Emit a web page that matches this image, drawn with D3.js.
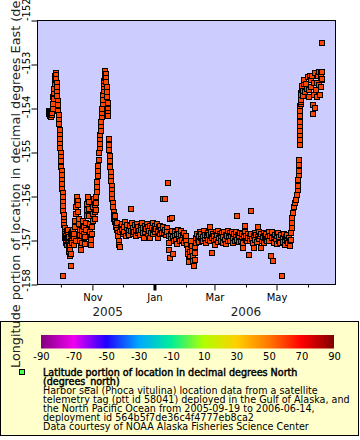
<!DOCTYPE html>
<html><head><meta charset="utf-8">
<script src="https://cdn.jsdelivr.net/npm/d3@7"></script>
<style>body{margin:0;background:#fff}svg{display:block;font-family:"DejaVu Sans",sans-serif}</style>
</head><body>
<svg id="chart" width="360" height="440"></svg>
<script>
// ---- data ----
const startDate = "2005-09-19";
// [days since startDate, longitude (degrees_east)]
const fixes = [
[0.0,-154.05],[0.4,-154.12],[0.8,-154.18],[1.2,-154.08],[1.6,-154.15],[2.0,-154.1],[2.4,-154.2],[2.8,-154.05],[3.2,-154.14],[3.6,-154.1],[4.0,-153.75],[4.3,-154.0],
[4.6,-153.9],[5.0,-153.78],[5.3,-153.65],[5.6,-153.55],[5.9,-153.45],[6.2,-153.36],[6.5,-153.27],[6.8,-153.2],[7.1,-153.24],[7.4,-153.32],
[7.7,-153.42],[8.0,-153.52],[8.3,-153.62],[8.6,-153.72],[8.9,-153.82],[9.2,-153.92],[9.5,-154.05],[9.8,-154.15],[10.1,-154.25],[10.4,-154.35],
[10.7,-154.48],[11.0,-154.6],[11.2,-154.7],[11.4,-154.8],[11.6,-154.9],[11.8,-155.0],[12.0,-155.1],[12.2,-155.2],[12.4,-155.32],[12.6,-155.42],
[12.8,-155.52],[13.0,-155.62],[13.2,-155.72],[13.4,-155.82],[13.6,-155.92],[13.8,-156.02],[14.0,-156.12],[14.1,-157.8],[14.2,-156.22],[14.4,-156.32],
[14.6,-156.42],[14.8,-156.5],
[15.0,-156.58],[15.3,-156.65],[15.6,-156.72],[15.9,-156.8],[16.2,-156.95],[16.5,-156.85],[16.8,-157.0],[17.1,-156.9],[17.4,-157.05],[17.7,-156.78],
[18.0,-156.95],[18.3,-157.1],[18.6,-156.88],[18.9,-157.02],[19.2,-156.75],[19.5,-156.92],[19.8,-157.15],[20.1,-157.05],[20.4,-157.25],[20.7,-157.35],
[21.0,-157.2],[21.3,-157.1],[21.5,-157.58],[21.8,-157.3],[22.1,-157.0],[22.4,-156.85],[22.7,-156.95],[23.0,-156.8],[23.3,-157.05],[23.6,-156.9],[24.0,-156.75],
[24.4,-156.95],[24.8,-157.1],[25.2,-156.85],[25.6,-156.7],[26.0,-156.55],[26.4,-157.0],[26.8,-156.4],[27.2,-156.25],[27.6,-156.12],[28.0,-156.02],
[28.4,-156.1],[28.8,-156.2],[29.2,-156.35],[29.6,-156.5],[30.0,-156.62],[30.4,-156.75],[30.8,-156.88],[31.2,-157.0],[31.6,-157.12],[32.0,-157.22],
[32.4,-157.05],[32.8,-156.9],[33.2,-156.78],[33.6,-156.65],[34.0,-156.55],[34.4,-156.7],[34.8,-156.85],[35.2,-156.95],[35.6,-157.08],[36.0,-156.92],
[36.4,-156.75],[36.8,-156.6],[37.2,-156.45],[37.6,-156.3],[38.0,-156.18],[38.4,-156.05],[38.8,-156.0],[39.2,-156.12],[39.6,-156.28],[40.0,-156.45],
[40.4,-156.62],[40.8,-156.8],[41.2,-156.95],[41.6,-157.1],[42.0,-156.98],[42.4,-156.85],[42.8,-156.7],[43.2,-156.55],[43.6,-156.4],[44.0,-156.25],
[44.4,-156.1],[44.8,-156.05],[45.2,-156.2],[45.6,-156.35],[46.0,-156.5],[46.4,-156.3],[46.8,-156.15],
[47.0,-156.0],[47.3,-155.9],[47.6,-155.78],[47.9,-155.66],[48.2,-155.54],[48.5,-155.42],[48.8,-155.3],[49.1,-155.18],[49.6,-155.0],[50.0,-154.9],
[50.3,-154.8],[50.6,-154.7],[50.9,-154.6],[51.2,-154.5],[51.5,-154.4],[51.8,-154.3],[52.1,-154.2],[52.4,-154.1],[52.7,-154.0],[53.0,-153.9],
[53.3,-153.8],[53.6,-153.7],[53.9,-153.6],[54.2,-153.5],[54.5,-153.45],[54.8,-153.38],[55.1,-153.3],
[55.5,-153.18],[55.8,-153.15],[56.1,-153.22],[56.4,-153.3],[56.7,-153.4],[57.0,-153.5],[57.3,-153.62],[57.6,-153.75],[57.9,-153.88],[58.2,-154.0],
[58.5,-154.1],[58.8,-154.18],[59.1,-154.7],[59.4,-154.82],[59.7,-154.95],[60.0,-155.08],[60.3,-155.2],[60.6,-155.32],[60.9,-155.45],[61.2,-155.55],
[61.5,-155.65],[61.8,-155.75],[62.1,-155.85],[62.4,-155.95],[62.7,-156.05],[63.0,-156.15],[63.4,-156.25],[63.8,-156.35],[64.2,-156.42],[64.6,-156.5],
[65.0,-156.58],[65.5,-156.45],[66.0,-156.62],[66.5,-156.7],[67.0,-156.6],[67.5,-156.75],[68.0,-156.82],[68.5,-156.9],[69.0,-157.0],[69.5,-157.1],
[70.0,-157.15],[70.5,-156.8],[71.0,-156.7],
[71.6,-156.75],[72.3,-156.62],[73.0,-156.85],[73.7,-156.7],[74.4,-156.8],[75.3,-156.58],[75.9,-156.9],[76.6,-156.72],[77.3,-156.65],[78.0,-156.82],
[78.7,-156.75],[79.4,-156.88],[80.1,-156.68],[80.6,-156.29],[81.2,-156.78],[81.9,-156.6],[82.6,-156.85],[83.3,-156.72],[84.0,-156.8],[84.7,-156.65],
[85.4,-156.9],[86.1,-156.75],[86.8,-156.62],[87.5,-156.82],[88.2,-156.7],[88.9,-156.78],[89.6,-156.88],[90.3,-156.66],[91.0,-156.75],[91.7,-156.6],
[92.4,-156.83],[93.1,-156.72],[93.7,-156.95],[94.4,-156.68],[95.1,-156.8],[95.8,-156.74],[96.5,-156.63],[97.2,-156.86],[97.9,-156.7],[98.6,-156.78],
[99.3,-156.95],[100.0,-156.66],[100.7,-156.82],[101.4,-156.72],[102.1,-156.6],[102.8,-156.86],[103.5,-156.75],[104.2,-156.68],[104.9,-156.8],[105.6,-156.73],
[106.3,-156.62],[107.0,-156.95],[107.7,-156.78],[108.4,-156.7],[109.1,-156.85],[109.8,-156.66],[110.5,-156.76],[111.2,-156.82],[112.0,-156.06],[112.6,-156.7],
[113.3,-156.84],[114.0,-156.06],[114.7,-156.75],[115.4,-156.88],[116.1,-156.72],
[116.8,-156.8],[117.5,-155.69],[118.0,-156.9],[118.3,-157.06],[118.6,-157.22],[118.9,-157.4],[119.3,-156.52],[119.8,-156.95],[120.4,-156.85],[121.0,-156.78],
[121.6,-156.49],[121.9,-157.3],[122.5,-156.92],[123.2,-157.0],[123.9,-156.8],[124.6,-156.9],[125.3,-156.98],[126.0,-156.85],[126.4,-157.08],[127.0,-156.75],
[127.7,-156.95],[128.4,-156.85],[129.1,-157.02],[129.8,-156.9],[130.5,-156.78],[131.2,-156.98],[131.9,-156.88],[132.6,-157.05],[133.3,-156.82],[134.0,-156.95],
[134.7,-157.0],[135.4,-156.9],[136.0,-157.1],[136.5,-157.2],[137.0,-157.3],[137.5,-157.42],[138.0,-157.5],[138.5,-157.35],[139.0,-157.25],[139.5,-157.1],
[140.0,-157.0],[140.5,-157.12],[141.0,-157.24],[141.5,-157.36],[142.0,-157.47],[142.5,-157.58],[143.0,-157.58],[143.5,-157.45],[143.9,-157.28],[144.3,-157.15],
[144.8,-157.05],[145.3,-156.95],[146.0,-156.85],[146.7,-156.98],[147.4,-156.9],[148.1,-157.04],[148.8,-156.8],[149.5,-156.94],[150.2,-156.86],[150.9,-157.0],
[151.6,-156.92],[152.0,-157.02],[152.7,-156.78],[153.4,-156.96],[154.1,-156.88],[154.8,-157.05],[155.5,-156.9],[156.2,-156.82],[156.9,-156.98],[157.6,-156.87],
[158.3,-157.0],[158.6,-156.69],[159.2,-156.9],[159.8,-156.8],[160.3,-157.28],[160.9,-156.95],[161.5,-156.85],[162.2,-157.02],[162.9,-156.9],[163.5,-157.11],
[164.1,-156.8],[164.8,-156.96],[165.5,-156.88],[166.2,-157.04],[166.9,-156.78],[167.6,-156.94],[168.3,-156.85],[169.0,-157.0],[169.7,-156.9],[170.4,-156.82],
[171.1,-157.05],[171.8,-156.92],[172.5,-156.8],[173.2,-156.98],[173.9,-156.88],[174.6,-157.09],[175.3,-156.9],[176.0,-156.79],[176.6,-157.02],[177.3,-156.92],
[178.0,-156.84],[178.7,-157.0],[179.4,-156.9],[180.1,-156.8],[181.0,-157.06],[181.6,-156.95],[182.3,-156.85],[183.0,-157.02],[183.7,-156.92],[184.4,-156.8],
[184.9,-156.44],[185.5,-156.98],[186.2,-156.88],[186.9,-157.04],[187.6,-156.9],[188.3,-156.82],[189.0,-157.0],[189.7,-156.93],[190.4,-156.85],[191.1,-157.05],
[191.4,-157.18],[192.0,-156.9],[192.7,-156.8],[193.1,-156.67],[193.6,-156.98],[194.3,-156.9],[195.0,-157.02],[195.7,-156.86],[196.4,-156.95],[197.0,-157.33],
[197.6,-156.9],[198.3,-157.0],[198.7,-156.33],[199.4,-156.85],[200.1,-156.96],[200.8,-157.05],[201.5,-156.9],[201.9,-157.18],[202.6,-156.82],[203.3,-156.98],
[204.0,-156.88],[204.7,-157.03],[205.4,-156.92],[205.6,-156.69],[206.3,-156.8],[207.0,-156.97],[207.7,-156.9],[208.5,-157.17],[209.2,-156.85],[209.9,-157.0],
[210.6,-156.93],[211.3,-156.82],[212.0,-157.05],[212.7,-156.9],[213.4,-156.98],[214.1,-156.86],[214.8,-157.02],[215.5,-156.92],[216.2,-156.8],[216.9,-157.0],
[217.6,-156.9],[218.4,-157.35],[219.1,-156.95],[219.8,-156.81],[220.6,-157.46],[221.3,-156.92],[222.0,-157.05],[222.7,-156.88],[223.4,-156.96],[224.1,-157.08],
[224.8,-156.9],[225.5,-156.84],[226.2,-157.0],[226.9,-156.92],[227.6,-157.06],[228.3,-156.88],[229.2,-157.8],[229.9,-156.95],[230.6,-157.04],[231.3,-156.86],
[232.0,-156.98],[232.7,-157.1],[233.4,-156.92],[234.1,-157.02],[234.8,-156.88],[235.5,-157.05],[236.2,-156.95],[236.9,-157.0],
[237.3,-157.12],[237.8,-156.98],[238.3,-156.84],[238.8,-156.72],[239.3,-156.61],[239.7,-156.49],[240.1,-156.37],[241.5,-156.25],[242.6,-156.15],[243.5,-156.07],
[244.3,-155.97],[244.9,-155.86],[245.3,-155.76],[245.6,-155.63],[245.9,-155.52],[246.1,-155.43],[246.3,-155.29],[246.5,-155.18],[246.7,-154.84],[246.8,-154.72],
[246.9,-154.6],[247.0,-154.5],[247.1,-154.4],[247.2,-154.3],[247.3,-154.18],[247.4,-154.05],[247.5,-153.95],[247.6,-153.9],[247.7,-153.85],[247.9,-153.75],
[248.0,-153.8],[248.2,-153.65],[248.4,-153.7],[248.6,-153.55],[249.2,-153.48],[249.7,-153.72],[250.2,-153.6],[250.6,-153.45],[251.4,-153.36],[252.1,-153.63],
[253.1,-153.45],[253.8,-153.55],[254.6,-153.29],[255.5,-153.59],[256.1,-153.73],[257.0,-153.25],[257.7,-153.36],[258.0,-153.5],[259.1,-153.25],[259.7,-153.93],
[259.9,-154.12],[260.5,-153.7],[261.1,-153.43],[262.0,-153.99],[262.3,-153.2],[263.0,-153.59],[263.6,-153.43],[264.0,-153.75],[264.4,-153.25],[265.4,-153.18],
[266.2,-153.46],[266.9,-153.7],[267.4,-153.5],[268.0,-153.2],[268.2,-153.29],[268.4,-153.36],[268.6,-153.32],[268.8,-153.18],[268.9,-152.52]
];
const timeDomain = ["2005-09-08", "2006-06-28"];
const lonDomain = [-158, -152];
const yTicks = [-158, -157, -156, -155, -154, -153, -152];
const yearLabels = ["2005", "2006"];
const yearLabelDates = ["2005-11-16", "2006-04-01"];
const colorbarDomain = [-90, 90];
const colorbarTicks = [-90, -70, -50, -30, -10, 10, 30, 50, 70, 90];
const paletteValues = [-90, -70, -50, -30, -10, 10, 30, 50, 70, 90];
const paletteColors = ["#800080", "#f000f0", "#2000ff", "#00a8ff", "#00ee99", "#b0ff00", "#ffd000", "#ff7800", "#ff0000", "#800000"];
const yTitle = "Longitude portion of location in decimal degrees East (degrees_east)";
const legendTitle = ["Latitude portion of location in decimal degrees North", "(degrees_north)"];
const legendLines = [
  "Harbor seal (Phoca vitulina) location data from a satellite",
  "telemetry tag (ptt id 58041) deployed in the Gulf of Alaska, and",
  "the North Pacific Ocean from 2005-09-19 to 2006-06-14,",
  "deployment id 564b5f7de36c4f4777eb8ca2",
  "Data courtesy of NOAA Alaska Fisheries Science Center"
];

// ---- drawing ----
const svg = d3.select("#chart");
const font = "DejaVu Sans";
const P = {l: 37.5, t: 20.5, r: 335.5, b: 284.5};
const utc = s => new Date(s + "T00:00:00Z");
const x = d3.scaleUtc().domain(timeDomain.map(utc)).range([P.l, P.r]);
const y = d3.scaleLinear().domain(lonDomain).range([P.b, P.t]);

svg.append("rect").attr("x", P.l).attr("y", P.t).attr("width", P.r - P.l).attr("height", P.b - P.t)
  .attr("fill", "#ccccff");

const t0 = utc(startDate).getTime();
const pts = fixes.map(f => ({date: new Date(t0 + f[0] * 864e5), lon: f[1]}));
svg.append("g").selectAll("rect").data(pts).join("rect")
  .attr("x", d => Math.round(x(d.date)) - 2.5)
  .attr("y", d => Math.round(y(d.lon)) - 2.5)
  .attr("width", 5).attr("height", 5)
  .attr("fill", "#ff4600").attr("stroke", "#000").attr("stroke-width", 1);

svg.append("rect").attr("x", P.l).attr("y", P.t).attr("width", P.r - P.l).attr("height", P.b - P.t)
  .attr("fill", "none").attr("stroke", "#000").attr("stroke-width", 1);

// x axis
const isMajor = d => d.getUTCMonth() % 2 === 0;
const xg = svg.append("g").attr("transform", `translate(0,${P.b})`)
  .call(d3.axisBottom(x).ticks(d3.utcMonth.every(1)).tickSizeOuter(0)
    .tickFormat(d => isMajor(d) ? d3.utcFormat("%b")(d) : ""));
xg.select(".domain").remove();
xg.attr("font-family", font).attr("font-size", 10);
xg.selectAll(".tick line").attr("stroke", "#000")
  .attr("y2", d => isMajor(d) ? 6 : 3)
  .attr("stroke-width", d => d.getUTCMonth() === 0 ? 3 : 1);
xg.selectAll(".tick text").attr("fill", "#000").attr("y", 16).attr("dy", 0);
svg.append("g").selectAll("text").data(yearLabels).join("text")
  .attr("x", (d, i) => x(utc(yearLabelDates[i]))).attr("y", 315.5)
  .attr("text-anchor", "middle").attr("font-family", font).attr("font-size", 12).attr("fill", "#222")
  .text(d => d);

// y axis
const yg = svg.append("g").attr("transform", `translate(${P.l},0)`)
  .call(d3.axisLeft(y).tickValues(yTicks).tickSize(6).tickFormat(d => String(d)));
yg.select(".domain").remove();
yg.attr("font-family", font).attr("font-size", 10);
yg.selectAll(".tick line").attr("stroke", "#000");
yg.selectAll(".tick text").attr("fill", "#000").attr("x", null).attr("dy", 0)
  .attr("text-anchor", d => d === lonDomain[1] ? "start" : "middle")
  .attr("transform", d => {
    const off = d === lonDomain[1] ? 0 : (d === lonDomain[0] ? -4.6 : -2);
    return `translate(-7.5,${off}) rotate(-90)`;
  });

// legend box
svg.append("rect").attr("x", 0.5).attr("y", 321.5).attr("width", 358).attr("height", 114)
  .attr("fill", "#ffffcc").attr("stroke", "#000").attr("stroke-width", 1);

// colorbar
const cScale = d3.scaleLinear().domain(colorbarDomain).range([41, 334]);
const grad = svg.append("defs").append("linearGradient").attr("id", "pal")
  .attr("x1", "0%").attr("x2", "100%").attr("y1", "0%").attr("y2", "0%");
grad.selectAll("stop").data(paletteValues).join("stop")
  .attr("offset", d => (d - colorbarDomain[0]) / (colorbarDomain[1] - colorbarDomain[0]))
  .attr("stop-color", (d, i) => paletteColors[i]);
svg.append("rect").attr("x", cScale(colorbarDomain[0])).attr("y", 335)
  .attr("width", cScale(colorbarDomain[1]) - cScale(colorbarDomain[0])).attr("height", 13.5)
  .attr("fill", "url(#pal)");
const cg = svg.append("g").attr("transform", "translate(0,348.5)")
  .call(d3.axisBottom(cScale).tickValues(colorbarTicks).tickSize(0).tickFormat(d => String(d)));
cg.select(".domain").remove();
cg.attr("font-family", font).attr("font-size", 10);
cg.selectAll(".tick text").attr("fill", "#000").attr("y", 11.5).attr("dy", 0);

// legend entry
svg.append("rect").attr("x", 19.5).attr("y", 369.5).attr("width", 5).attr("height", 5)
  .attr("fill", "#4dff4d").attr("stroke", "#000");
const lt = svg.append("g").attr("font-family", font).attr("font-size", 9.6).attr("fill", "#000");
legendTitle.concat(legendLines).forEach((s, i) => {
  const t = lt.append("text").attr("x", 43).attr("y", 375.5 + i * 9.1).text(s);
  if (i < legendTitle.length) t.attr("stroke", "#000").attr("stroke-width", 0.45);
});

// y title
svg.append("text").attr("transform", "translate(19.5,368) rotate(-90)")
  .attr("font-family", font).attr("font-size", 12.8).attr("fill", "#222").text(yTitle);
</script>
</body></html>
